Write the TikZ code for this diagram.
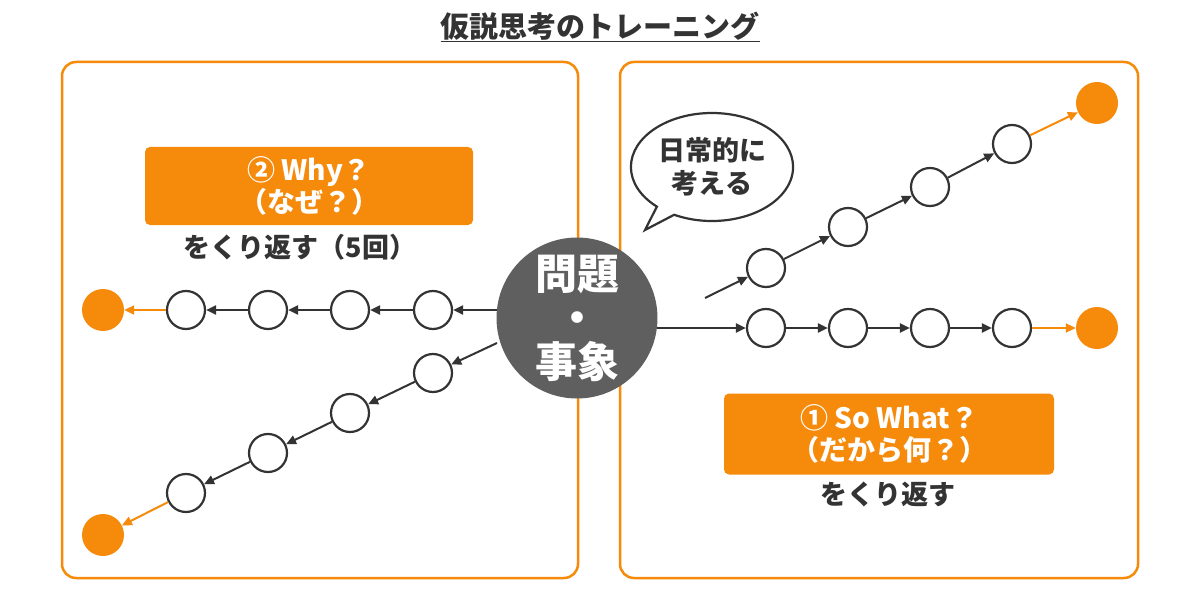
\documentclass[tikz,border=0pt]{standalone}
\usepackage{fontspec}
\setmainfont{Noto Sans CJK JP}
\usetikzlibrary{arrows.meta,shapes.callouts}
\definecolor{org}{HTML}{F58A0B}
\definecolor{dk}{HTML}{333333}
\definecolor{gr}{HTML}{5F5F5F}
\begin{document}
\begin{tikzpicture}[x=1pt,y=-1pt,
  sm/.style={circle,draw=dk,line width=2.2pt,fill=white,minimum size=38pt,inner sep=0},
  en/.style={circle,fill=org,minimum size=42pt,inner sep=0},
  ar/.style={draw=dk,line width=2pt,-{Triangle[length=10pt,width=9pt]}},
  oa/.style={draw=org,line width=2pt,-{Triangle[length=10pt,width=9pt]}},
  frame/.style={draw=org,line width=2.5pt,rounded corners=14pt},
  lab/.style={fill=org,rounded corners=5pt,text=white,font=\bfseries\fontsize{28}{32}\selectfont,align=center},
  txt/.style={text=dk,font=\bfseries\fontsize{27}{30}\selectfont}]
\useasboundingbox (0,0) rectangle (1200,591);
\fill[white] (0,0) rectangle (1200,591);
\node[txt,text=dk,font=\bfseries\fontsize{29}{32}\selectfont] (title) at (600,27) {\underline{仮説思考のトレーニング}};
\draw[frame] (62,62) rectangle (578,578);
\draw[frame] (620,62) rectangle (1138,578);
\node[lab,minimum width=328pt,minimum height=78pt] (why) at (309,186) {② Why？\\（なぜ？）};
\node[txt] (whyt) at (300,247) {をくり返す（5回）};
\node[lab,minimum width=330pt,minimum height=81pt] (sw) at (889,434) {① So What？\\（だから何？）};
\node[txt] (swt) at (888,494) {をくり返す};
\node[sm] (a1) at (433,310) {}; \node[sm] (a2) at (350,310) {};
\node[sm] (a3) at (268,310) {}; \node[sm] (a4) at (186,310) {};
\node[en] (a5) at (103,310) {};
\node[sm] (b1) at (433,373) {}; \node[sm] (b2) at (350,413) {};
\node[sm] (b3) at (268,453) {}; \node[sm] (b4) at (186,493) {};
\node[en] (b5) at (103,535) {};
\node[sm] (c1) at (766,328) {}; \node[sm] (c2) at (848,328) {};
\node[sm] (c3) at (930,328) {}; \node[sm] (c4) at (1012,328) {};
\node[en] (c5) at (1097,328) {};
\node[sm] (d1) at (766,268) {}; \node[sm] (d2) at (848,227) {};
\node[sm] (d3) at (930,187) {}; \node[sm] (d4) at (1012,144) {};
\node[en] (d5) at (1097,103) {};
\node[circle,fill=gr,minimum size=160pt,text=white,align=center,font=\bfseries\fontsize{42}{44}\selectfont] (c) at (577,318) {問題\\・\\事象};
\coordinate (sa) at (497,310); \coordinate (sb) at (497,343);
\coordinate (sc) at (657,328); \coordinate (sd) at (705,298);
\draw[ar] (sa) -- (a1); \draw[ar] (a1) -- (a2); \draw[ar] (a2) -- (a3); \draw[ar] (a3) -- (a4); \draw[oa] (a4) -- (a5);
\draw[ar] (sb) -- (b1); \draw[ar] (b1) -- (b2); \draw[ar] (b2) -- (b3); \draw[ar] (b3) -- (b4); \draw[oa] (b4) -- (b5);
\draw[ar] (sc) -- (c1); \draw[ar] (c1) -- (c2); \draw[ar] (c2) -- (c3); \draw[ar] (c3) -- (c4); \draw[oa] (c4) -- (c5);
\draw[ar] (sd) -- (d1); \draw[ar] (d1) -- (d2); \draw[ar] (d2) -- (d3); \draw[ar] (d3) -- (d4); \draw[oa] (d4) -- (d5);
\node[ellipse callout,draw=dk,line width=2.2pt,fill=white,minimum width=150pt,minimum height=108pt,callout absolute pointer={(645,230)},align=center,text=dk,font=\bfseries\fontsize{27}{33}\selectfont] (bub) at (712,167) {日常的に\\考える};
\end{tikzpicture}
\end{document}
